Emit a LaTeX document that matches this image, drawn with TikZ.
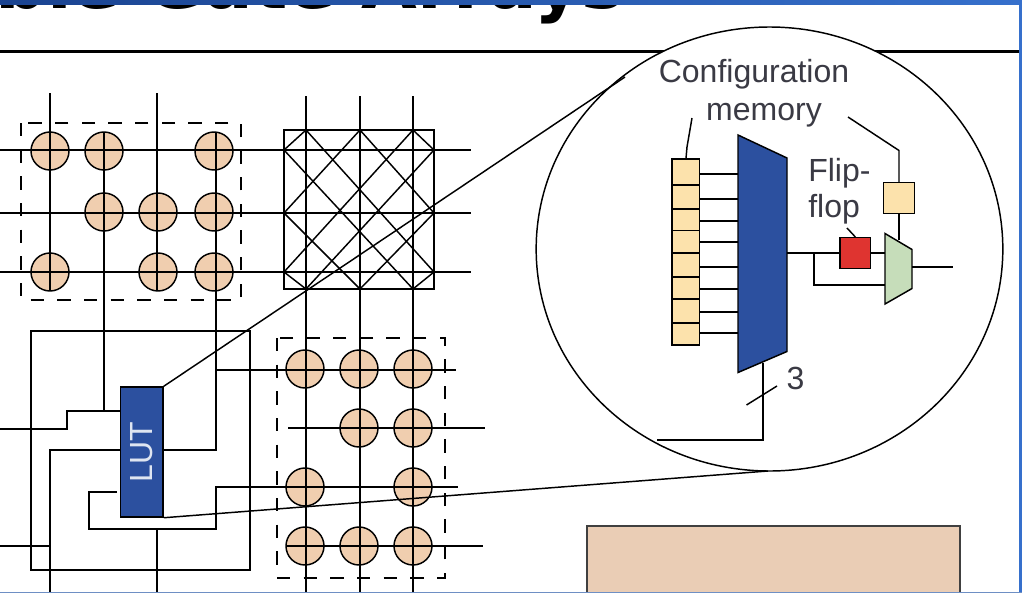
\documentclass[tikz,border=0pt]{standalone}
\usepackage{fontspec}
\setmainfont{Liberation Sans}
\newfontfamily\titlefont{DejaVu Sans}
\definecolor{padfill}{HTML}{F0CEAF}
\definecolor{boxfill}{HTML}{EACDB5}
\definecolor{lutblue}{HTML}{2C509F}
\definecolor{memfill}{HTML}{FCE2AC}
\definecolor{ffred}{HTML}{DF3430}
\definecolor{muxgreen}{HTML}{C6DDBA}
\definecolor{inktext}{HTML}{3A3A44}
\definecolor{framedark}{HTML}{1A4390}
\definecolor{framelight}{HTML}{3670CC}
\definecolor{framelow}{HTML}{6E8FC4}
\tikzset{
    wire/.style={line width=1.4pt},
    thinwire/.style={line width=1.1pt},
    pad/.style={circle,draw,line width=1.1pt,fill=padfill,minimum size=28.5pt,inner sep=0pt},
    dashbox/.style={line width=1.2pt,dash pattern=on 10pt off 10pt},
    memcell/.style={draw,line width=1.1pt,fill=memfill,minimum width=20.5pt,inner sep=0pt},
    label/.style={text=inktext,font=\fontsize{24}{27}\selectfont,inner sep=0pt}
}
\begin{document}
\begin{tikzpicture}[x=0.75pt,y=-0.75pt]
        \useasboundingbox (0,0) rectangle (1022,593);
        \begin{scope}
            \clip (0,4) rectangle (1022,593);
            \node [anchor=base east,inner sep=0pt,font=\titlefont\bfseries\fontsize{54}{60}\selectfont] (title) at (625,8) {ble Gate Arrays};
        \end{scope}
        \draw [line width=2.7pt] (0,51.5) to (1019,51.5);

        % upper left block
        \foreach \x/\y [count=\i] in {50/151,104/151,214/151,104/212,158/212,214/212,50/272,158/272,214/272}
            \node [pad] (upad\i) at (\x,\y) {};
        \draw [dashbox] (21,123) rectangle (241,300);
        \foreach \y in {150,213,272}
            \draw [wire] (0,\y) to (471,\y);
        \draw [wire] (50,93) to (50,290);
        \draw [wire] (157,93) to (157,290);

        % switch box
        \draw [wire] (284,130) rectangle (434,289);
        \foreach \x in {306,360,413}
            \draw [wire] (\x,96) to (\x,338);
        \foreach \a/\b/\c/\d in {284/150/306/130,284/213/360/130,284/272/413/130,306/289/434/150,360/289/434/213,413/289/434/272,
                                 306/130/434/272,360/130/434/213,413/130/434/150,284/150/413/289,284/213/360/289,284/272/306/289}
            \draw [thinwire] (\a,\b) to (\c,\d);

        % lower right block
        \foreach \x/\y [count=\i] in {305/369,359/369,413/369,359/428,413/428,305/487,413/487,305/546,359/546,413/546}
            \node [pad] (dpad\i) at (\x,\y) {};
        \foreach \x in {306,360,413}
            \draw [wire] (\x,338) to (\x,593);
        \draw [dashbox] (277,338) rectangle (445,578);
        \draw [wire] (216,370) to (456,370);
        \draw [wire] (288,428) to (485,428);
        \draw [wire] (287,546) to (483,546);

        % lut and its wires
        \node [draw,line width=1.1pt,fill=lutblue,text=white!85!lutblue,minimum width=32pt,minimum height=97.5pt,inner sep=0pt,font=\fontsize{24}{24}\selectfont] (lut) at (141.7,452) {\rotatebox{90}{LUT}};
        \draw [wire] (31,331) rectangle (250,570);
        \draw [wire] (104,132) to (104,411);
        \draw [wire] (216,132) to (216,450) to (lut.east |- 0,450);
        \draw [wire] (lut.west |- 0,411) -- (67,411) -- (67,429) -- (0,429);
        \draw [wire] (lut.west |- 0,450) -- (50,450) -- (50,593);
        \draw [wire] (0,546) to (50,546);
        \draw [wire] (117,492) -- (89,492) -- (89,529) -- (216,529) -- (216,487) -- (458,487);
        \draw [wire] (157,529) to (157,593);

        % blow up
        \coordinate (zoomtop) at (625,77);
        \coordinate (zoombot) at (768,471);
        \filldraw [fill=white,line width=1.1pt] (769.5,249) ellipse [x radius=175pt,y radius=166.5pt];
        \draw [thinwire] (lut.north east) to (zoomtop);
        \draw [thinwire] (lut.south east) to (zoombot);

        \foreach \y/\h [count=\i] in {172/19.3,197/18.2,220/16.1,242/17,265/18,288/16.5,311/18,334/16.3}
            \node [memcell,minimum height=\h pt] (cell\i) at (685.7,\y) {};
        \filldraw [fill=lutblue,line width=1.1pt] (738,135) -- (787,158) -- (787,351.5) -- (738,372.5) -- cycle;
        \foreach \y [count=\i] in {174,199,221,242,267,289,312,333}
            \draw [thinwire] (cell\i.east |- 0,\y) to (738,\y);
        \draw [thinwire] (692,118) -- (687,147) -- (cell1.north -| 686,0);

        \node [label] (cfgtop) at (754,74) {Configuration};
        \node [label] (cfgbot) at (764,115) {memory};
        \node [label,align=left,anchor=north west] (fliplab) at (808,158) {Flip-\\flop};
        \node [label] (selnum) at (795.5,378) {3};

        \node [draw,line width=1.1pt,fill=ffred,minimum size=23pt,inner sep=0pt] (ff) at (855.3,253) {};
        \node [draw,line width=1.1pt,fill=memfill,minimum size=23pt,inner sep=0pt] (cfgbit) at (899,198) {};
        \filldraw [fill=muxgreen,line width=1.1pt] (885,233.5) -- (912,249.5) -- (912,288.5) -- (885,304) -- cycle;
        \coordinate (muxin) at (885,253);
        \coordinate (bigout) at (787,253);
        \draw [thinwire] (bigout) to (ff.west);
        \draw [thinwire] (ff.east) to (muxin);
        \draw [thinwire] (814,253) -- (814,285) -- (885,285);
        \draw [thinwire] (912,267) to (953,267);
        \draw [thinwire] (848,117) -- (899,150.5) -- (cfgbit.north);
        \draw [thinwire] (cfgbit.south) to (899,240);
        \draw [thinwire] (847,228) to (ff.north);
        \draw [thinwire] (763,363) -- (763,440) -- (657,440);
        \draw [thinwire] (746.5,405) to (777,386);

        % bottom block
        \draw [line width=1.2pt,draw=black!75,fill=boxfill] (587,526) rectangle (960,600);

        % frame of the slide
        \shade [left color=framedark,right color=framelight] (0,0) rectangle (1022,4);
        \fill [framelight] (1019,0) rectangle (1022,593);
        \fill [framelow] (0,591.5) rectangle (1022,593);
\end{tikzpicture}
\end{document}
